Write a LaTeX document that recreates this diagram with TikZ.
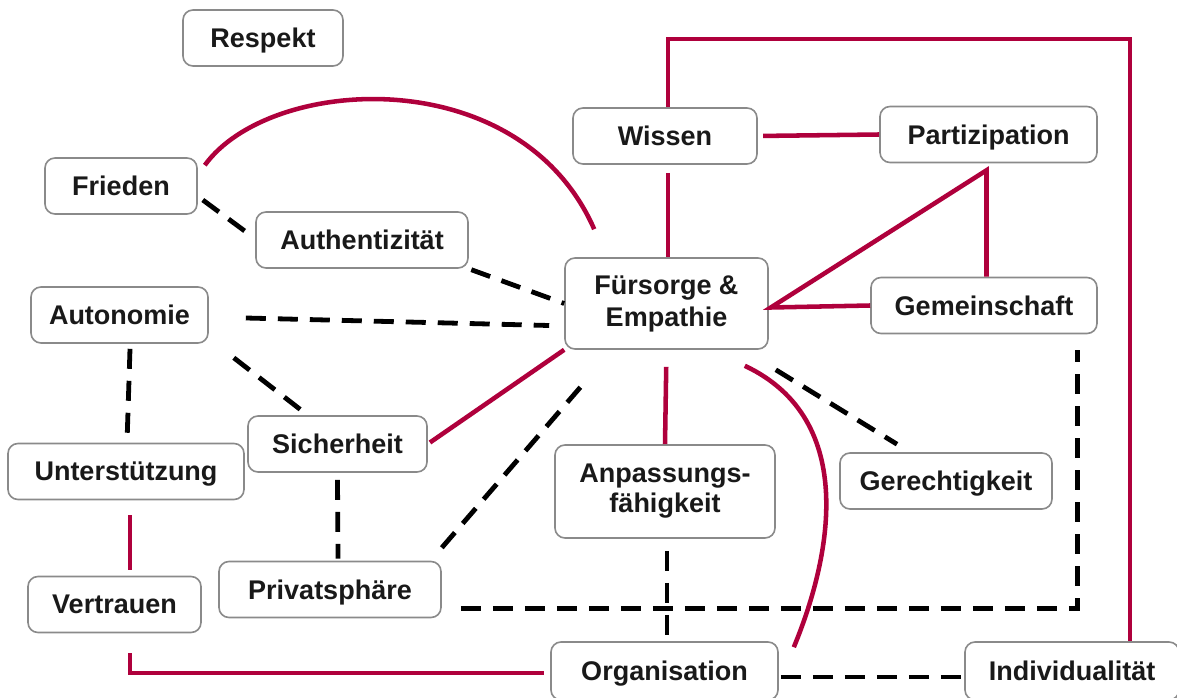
\documentclass[tikz,border=0pt]{standalone}
\usepackage{fontspec}
\setmainfont{Liberation Sans}
\usetikzlibrary{calc}
\definecolor{weinrot}{RGB}{175,0,60}
\definecolor{rahmengrau}{RGB}{138,138,138}
\tikzset{
  wert/.style={draw=rahmengrau, line width=1.2pt, rounded corners=7.5pt, fill=white,
    minimum height=42pt, inner sep=0pt, align=center, text=black!90, text depth=0pt,
    font=\fontsize{20.25}{24}\selectfont\bfseries},
  rot/.style={draw=weinrot, line width=3.4pt},
  strich/.style={draw=black, line width=3.6pt, dash pattern=on 15pt off 9pt},
}
\begin{document}
\begin{tikzpicture}[x=0.75pt,y=-0.75pt]
		\useasboundingbox (0,0) rectangle (1177,698);
		
		% Werte
		\node[wert, minimum width=120pt] (respekt) at (263,38) {Respekt};
		\node[wert, minimum width=114pt] (frieden) at (121,186) {Frieden};
		\node[wert, minimum width=159pt] (authent) at (362,240) {Authentizität};
		\node[wert, minimum width=132.75pt] (autonomie) at (119.5,315) {Autonomie};
		\node[wert, minimum width=134.25pt] (sicherheit) at (337.5,444) {Sicherheit};
		\node[wert, minimum width=177pt] (unterst) at (126,471.5) {Unterstützung};
		\node[wert, minimum width=129.75pt] (vertrauen) at (114.5,604.5) {Vertrauen};
		\node[wert, minimum width=166.5pt] (privat) at (330,589.5) {Privatsphäre};
		\node[wert, minimum width=138pt] (wissen) at (665,136) {Wissen};
		\node[wert, minimum width=162.75pt] (partiz) at (988.5,134.5) {Partizipation};
		\node[wert, text depth=, minimum width=152.25pt, minimum height=68.25pt] (fuersorge) at (666.5,303.5) {Fürsorge \&\\Empathie};
		\node[wert, minimum width=169.5pt] (gemein) at (984,305.5) {Gemeinschaft};
		\node[wert, text depth=, minimum width=165pt, minimum height=69.75pt, font=\fontsize{20.25}{22.5}\selectfont\bfseries] (anpassung) at (665,491.5) {Anpassungs-\\fähigkeit};
		\node[wert, minimum width=159pt] (gerecht) at (946,481) {Gerechtigkeit};
		\node[wert, minimum width=170.25pt, minimum height=43.5pt] (organisation) at (664.5,671) {Organisation};
		\node[wert, minimum width=160.5pt, minimum height=43.5pt] (individ) at (1072,671) {Individualität};
		
		% rote Verbindungen
		\draw[rot] ($(frieden.north east)+(7,8)$) .. controls (270,75) and (520,60) .. ($(fuersorge.north west)+(30,-28)$);
		\draw[rot, shorten <=4pt] (wissen.east) -- (partiz.west);
		\draw[rot] ($(wissen.south)+(3,8)$) -- ($(fuersorge.north)+(1.5,0)$);
		\draw[rot] ($(wissen.north)+(3,0)$) -- ++(0,-68) -| ($(individ.north)+(58,0)$);
		\coordinate (spitze) at ($(partiz.south)+(-2,7)$);
		\draw[rot] (gemein.north -| spitze) -- (spitze) -- ($(fuersorge.east)+(2,4)$) -- (gemein.west);
		\draw[rot, shorten <=2pt] (sicherheit.east) -- (fuersorge.south west);
		\draw[rot, shorten <=12.75pt] (fuersorge.south) -- (anpassung.north);
		\draw[rot] ($(fuersorge.south east)+(-24,16)$) .. controls (860,420) and (830,560) .. ($(organisation.north east)+(15,6)$);
		\draw[rot] ($(unterst.south)+(4,15)$) -- ($(vertrauen.north)+(15.5,-6)$);
		\draw[rot] ($(vertrauen.south)+(15.5,20)$) |- ($(organisation.west)+(-6,2)$);
		
		% gestrichelte Verbindungen
		\draw[strich] ($(frieden.east)+(5,14)$) -- ($(authent.west)+(-1,-2)$);
		\draw[strich, shorten <=2pt] (authent.south east) -- (fuersorge.west);
		\draw[strich] ($(autonomie.east)+(37,3)$) -- ($(fuersorge.west)+(-15,22)$);
		\draw[strich] ($(autonomie.south)+(10.5,5)$) -- ($(unterst.north)+(1,0)$);
		\draw[strich] ($(autonomie.south east)+(25,14)$) -- ($(sicherheit.north)+(-35,-4)$);
		\draw[strich] ($(sicherheit.south)+(0,7)$) -- ($(privat.north)+(8,-2)$);
		\draw[strich] ($(privat.north east)+(0,-13)$) -- ($(fuersorge.south west)+(20,33)$);
		\draw[strich] ($(fuersorge.south east)+(7,20)$) -- ($(gerecht.north)+(-49,-8)$);
		\draw[strich] ($(privat.east)+(19,19)$) -| ($(gemein.south east)+(-20,16)$);
		\draw[strich] ($(anpassung.south)+(2,12)$) -- ($(organisation.north)+(2.5,0)$);
		\draw[strich] ($(organisation.east)+(2,6)$) -- ($(individ.west)+(0,6)$);
\end{tikzpicture}
\end{document}
